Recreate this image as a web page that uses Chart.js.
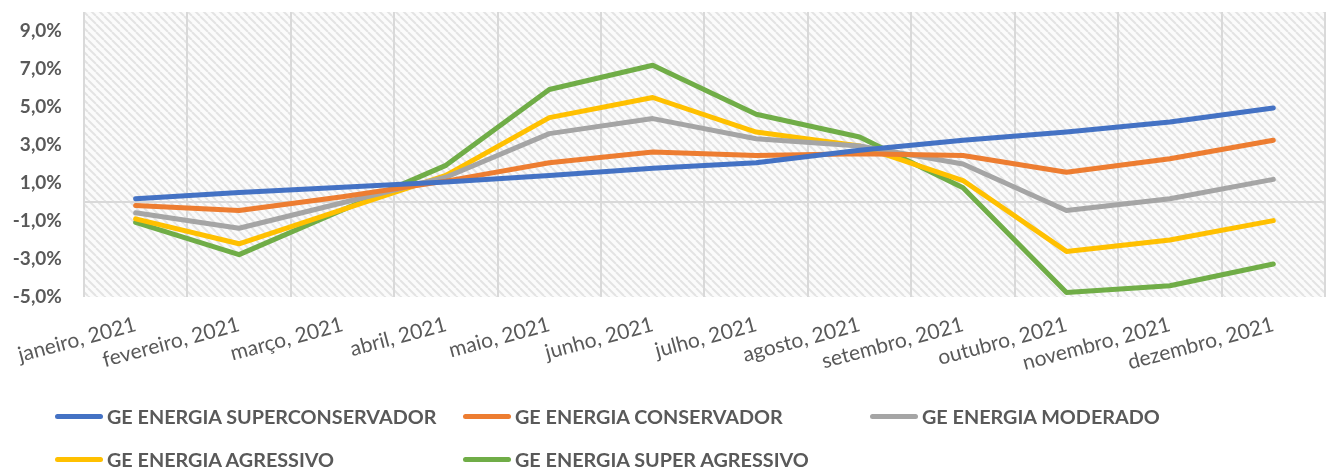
<!DOCTYPE html>
<html>
<head>
<meta charset="utf-8">
<script src="https://cdn.jsdelivr.net/npm/chart.js@4"></script>
<style>
  html, body { margin: 0; padding: 0; background: #ffffff; }
  #wrap { position: relative; width: 1327px; height: 468px; overflow: hidden; }
  #c { position: absolute; left: 0; top: 0; }
  .lg { position: absolute; display: flex; align-items: center; height: 30px; transform: translateY(-50%);
        font-family: Lato, "Open Sans", sans-serif; font-weight: bold; font-size: 19.8px; color: #595959; white-space: nowrap; }
  .lg .sw { width: 48px; height: 5px; border-radius: 3px; margin-right: 4px; }
</style>
</head>
<body>
<div id="wrap">
  <canvas id="c" width="1327" height="468"></canvas>
  <div id="legend"></div>
</div>
<script>
const categories = ['janeiro, 2021','fevereiro, 2021','março, 2021','abril, 2021','maio, 2021','junho, 2021',
  'julho, 2021','agosto, 2021','setembro, 2021','outubro, 2021','novembro, 2021','dezembro, 2021'];
const seriesNames = ['GE ENERGIA SUPERCONSERVADOR','GE ENERGIA CONSERVADOR','GE ENERGIA MODERADO',
  'GE ENERGIA AGRESSIVO','GE ENERGIA SUPER AGRESSIVO'];
const superConservador = [0.17, 0.50, 0.77, 1.05, 1.40, 1.78, 2.07, 2.72, 3.25, 3.68, 4.21, 4.95];
const conservador      = [-0.18, -0.45, 0.28, 1.10, 2.07, 2.63, 2.45, 2.54, 2.45, 1.57, 2.28, 3.25];
const moderado         = [-0.57, -1.38, -0.04, 1.30, 3.60, 4.39, 3.33, 2.95, 2.00, -0.45, 0.17, 1.19];
const agressivo        = [-0.89, -2.20, -0.40, 1.40, 4.44, 5.50, 3.68, 2.95, 1.13, -2.60, -2.00, -0.98];
const superAgressivo   = [-1.07, -2.77, -0.42, 1.93, 5.92, 7.20, 4.62, 3.42, 0.75, -4.76, -4.41, -3.26];
const yTicks = [-5, -3, -1, 1, 3, 5, 7, 9];
const yMin = -5, yMax = 10;

const colors = ['#4472C4', '#ED7D31', '#A5A5A5', '#FFC000', '#70AD47'];
const seriesData = [superConservador, conservador, moderado, agressivo, superAgressivo];

Chart.defaults.font.family = 'Lato, "Open Sans", sans-serif';
Chart.defaults.color = '#595959';

function makePattern(ctx) {
  const t = document.createElement('canvas');
  t.width = 8; t.height = 8;
  const g = t.getContext('2d');
  g.fillStyle = '#fbfbfb';
  g.fillRect(0, 0, 8, 8);
  g.strokeStyle = '#e3e3e3';
  g.lineWidth = 2;
  for (let k = -8; k <= 8; k += 8) {
    g.beginPath();
    g.moveTo(k, 0);
    g.lineTo(k + 8, 8);
    g.stroke();
  }
  return ctx.createPattern(t, 'repeat');
}

const bgPlugin = {
  id: 'bgPattern',
  beforeDraw(chart) {
    const { ctx, chartArea: a } = chart;
    ctx.save();
    ctx.fillStyle = makePattern(ctx);
    ctx.fillRect(a.left, a.top, a.right - a.left, a.bottom - a.top);
    ctx.restore();
  }
};

const chart = new Chart(document.getElementById('c'), {
  type: 'line',
  data: {
    labels: categories,
    datasets: seriesData.map((d, i) => ({
      label: seriesNames[i],
      data: d,
      borderColor: colors[i],
      backgroundColor: colors[i],
      borderWidth: 5,
      borderCapStyle: 'round',
      borderJoinStyle: 'round',
      pointRadius: 0,
      pointHoverRadius: 0,
      tension: 0,
      fill: false
    }))
  },
  options: {
    responsive: false,
    animation: false,
    layout: { padding: { top: 12, right: 2, left: 0, bottom: 0 } },
    plugins: { legend: { display: false }, tooltip: { enabled: false } },
    scales: {
      x: {
        offset: true,
        grid: { display: true, offset: true, color: '#d9d9d9', lineWidth: 2, drawTicks: false },
        border: { display: false },
        ticks: {
          autoSkip: false, minRotation: 15, maxRotation: 15, padding: 15,
          font: { size: 21 }, color: '#595959'
        },
        afterFit(scale) { scale.height = 171; }
      },
      y: {
        min: yMin, max: yMax,
        afterBuildTicks(scale) {
          scale.ticks = yTicks.concat([0]).sort((a, b) => a - b).map(v => ({ value: v }));
        },
        grid: {
          drawTicks: true,
          tickLength: 22,
          tickColor: 'rgba(0,0,0,0)',
          lineWidth: 2,
          color: (c) => (c.tick && c.tick.value === 0) ? '#d9d9d9' : 'rgba(0,0,0,0)'
        },
        border: { display: false },
        ticks: {
          padding: 0,
          font: { size: 19, weight: 'bold' },
          color: '#595959',
          callback: (v) => v === 0 ? '' : v.toFixed(1).replace('.', ',') + '%'
        },
        afterFit(scale) { scale.width = 83; }
      }
    }
  },
  plugins: [bgPlugin]
});

// HTML legend built from the chart's datasets
const legendPos = [[55, 416], [463, 416], [870, 416], [55, 459], [463, 459]];
const lg = document.getElementById('legend');
chart.data.datasets.forEach((ds, i) => {
  const item = document.createElement('div');
  item.className = 'lg';
  item.style.left = legendPos[i][0] + 'px';
  item.style.top = legendPos[i][1] + 'px';
  const sw = document.createElement('span');
  sw.className = 'sw';
  sw.style.background = ds.borderColor;
  const tx = document.createElement('span');
  tx.textContent = ds.label;
  item.appendChild(sw);
  item.appendChild(tx);
  lg.appendChild(item);
});
</script>
</body>
</html>
